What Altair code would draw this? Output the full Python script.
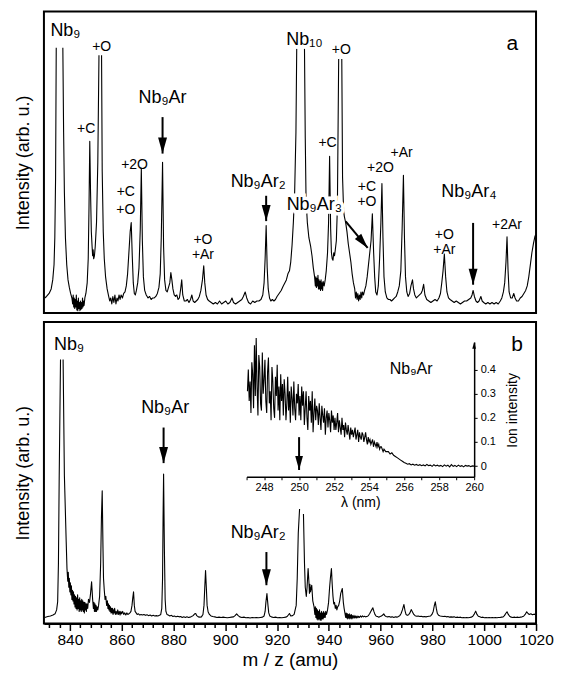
import altair as alt
import pandas as pd

FONT = "Liberation Sans"

# ---------------- panel a: (m/z, intensity in % of panel height); None = clipped peak top
SPEC_A = [
    (830.3, 5), (831.0, 5.5), (832.0, 6.5), (832.8, 8), (833.4, 11), (833.9, 16), (834.2, 25), (834.5, 45), (834.75, 88), None,
    (837.3, 88), (837.6, 60), (837.9, 40), (838.3, 25), (838.8, 16), (839.3, 11), (839.8, 8.5), (840.3, 6.5), (840.8, 5), (841.1, 3),
    (841.3, 6), (841.5, 2), (841.7, 5), (841.9, 1.5), (842.1, 4.5), (842.3, 2), (842.5, 6), (842.7, 1), (842.9, 4), (843.1, 0.8),
    (843.3, 5), (843.5, 1.5), (843.7, 3.5), (843.9, 0.8), (844.1, 4), (844.3, 1.2), (844.5, 3.5), (844.7, 1.5), (844.9, 5), (845.1, 2),
    (845.3, 4), (845.5, 2.5), (845.8, 5), (846.2, 6.5), (846.7, 10), (847.1, 18), (847.4, 35), (847.7, 57), (848.0, 40), (848.3, 27),
    (848.6, 22), (848.8, 19), (849.0, 21), (849.2, 18), (849.5, 19), (849.8, 22), (850.3, 30), (850.8, 50), (851.25, 85.5), None,
    (852.25, 85.5), (852.5, 47), (852.9, 27), (853.3, 18), (853.8, 12), (854.4, 8), (855.0, 5.5), (855.4, 4), (855.8, 5), (856.2, 3),
    (856.6, 5.5), (857.0, 3.5), (857.4, 6), (857.8, 3), (858.2, 5), (858.6, 4), (859.0, 6), (859.4, 4.5), (859.8, 6), (860.3, 5),
    (860.8, 6.5), (861.3, 7), (861.8, 9), (862.3, 13), (862.8, 20), (863.3, 27), (863.7, 30), (864.1, 19), (864.5, 10), (864.9, 6.5),
    (865.3, 6), (865.7, 7.5), (866.2, 10), (866.7, 15), (867.2, 28), (867.6, 48), (868.0, 24), (868.4, 12), (868.9, 7.5), (869.5, 6),
    (870.2, 5), (870.8, 5.5), (871.4, 4.5), (872.0, 5), (872.6, 5), (873.2, 5.5), (873.8, 6.5), (874.4, 8.5), (874.9, 13), (875.3, 25),
    (875.8, 50), (876.2, 22), (876.6, 11), (877.1, 7.5), (877.6, 7), (878.1, 8.5), (878.6, 10), (879.0, 13.4), (879.4, 11), (879.8, 8),
    (880.3, 6), (880.8, 5.5), (881.3, 6), (881.8, 4.5), (882.3, 5), (882.8, 8), (883.2, 11), (883.6, 6), (884.2, 4), (884.8, 4),
    (885.4, 4.5), (886.0, 3.5), (886.6, 4.5), (887.1, 6), (887.6, 4), (888.2, 3.5), (888.8, 4), (889.4, 4.5), (890.0, 5.5), (890.6, 7.5),
    (891.2, 11), (891.7, 15.7), (892.1, 10), (892.6, 6), (893.2, 4.5), (893.8, 4), (894.6, 3.5), (895.4, 3), (896.2, 3.5), (897.0, 3),
    (897.8, 4), (898.6, 3), (899.4, 3.5), (900.2, 4), (901.0, 3), (901.8, 3.5), (902.6, 5), (903.2, 3.5), (904.0, 3), (904.8, 3.5),
    (905.6, 4), (906.4, 4.5), (907.0, 5.5), (907.7, 7), (908.3, 5), (909.0, 3.5), (909.8, 3), (910.6, 4), (911.4, 3.5), (912.2, 4),
    (913.0, 4), (913.8, 4.5), (914.5, 6), (915.0, 10), (915.4, 18), (915.8, 29), (916.2, 15), (916.6, 8), (917.1, 5), (917.6, 4),
    (918.2, 4.5), (918.8, 4), (919.4, 4.5), (920.0, 5.5), (920.8, 6.5), (921.6, 7.5), (922.4, 9), (923.0, 10), (923.6, 11), (924.2, 13),
    (924.8, 14), (925.3, 17), (925.8, 22.5), (926.3, 30), (926.8, 40), (927.3, 60), (927.6, 87.7), None,
    (930.6, 87.7), (930.9, 58), (931.2, 38), (931.7, 30), (932.3, 25), (933.0, 22), (933.5, 19), (934.0, 15), (934.5, 12), (934.8, 9),
    (935.0, 12), (935.2, 8.5), (935.4, 11.5), (935.6, 9), (935.8, 12.5), (936.0, 8), (936.2, 11), (936.4, 8), (936.6, 10.5), (936.8, 7.5),
    (937.0, 11), (937.2, 8), (937.4, 10), (937.6, 7.5), (937.8, 10.5), (938.2, 9), (938.6, 11), (939.0, 14), (939.5, 20), (939.9, 30),
    (940.3, 52), (940.7, 28), (941.0, 20), (941.3, 18), (941.6, 17.5), (941.9, 20), (942.2, 19), (942.5, 21), (942.9, 24), (943.3, 35),
    (943.8, 84.3), None,
    (945.0, 84.3), (945.3, 45), (945.7, 34), (946.0, 32), (946.5, 30), (947.0, 27), (947.5, 23), (948.0, 20), (948.5, 17), (949.0, 13),
    (949.5, 10), (950.0, 8), (950.3, 5), (950.6, 7), (950.9, 4.5), (951.2, 6.5), (951.5, 4), (951.8, 6), (952.1, 4.5), (952.4, 7),
    (952.7, 5), (953.0, 7), (953.4, 6), (953.8, 7.5), (954.3, 9), (954.8, 12), (955.3, 16), (955.8, 20), (956.3, 24), (956.8, 32.9),
    (957.3, 20), (957.7, 12), (958.1, 7), (958.6, 6), (959.1, 9), (959.6, 18), (960.1, 30), (960.5, 43), (960.9, 25), (961.3, 12),
    (961.8, 7), (962.4, 5), (963.0, 4.5), (963.6, 4.5), (964.2, 4), (964.8, 4.5), (965.4, 5), (966.0, 5.5), (966.6, 7), (967.2, 9),
    (967.8, 14), (968.3, 28), (968.8, 45.7), (969.2, 25), (969.6, 12), (970.1, 7), (970.6, 5.5), (971.2, 6.5), (971.7, 9), (972.3, 11),
    (972.7, 8), (973.2, 6), (973.8, 5), (974.4, 5.5), (975.0, 6), (975.6, 6.5), (976.1, 7.5), (976.6, 9.5), (977.1, 6), (977.8, 4.5),
    (978.6, 4), (979.4, 3.5), (980.2, 4), (981.0, 4.5), (981.8, 4), (982.5, 5), (983.1, 6.5), (983.6, 10), (984.1, 14), (984.6, 19.6),
    (985.1, 12), (985.6, 7), (986.2, 5), (986.8, 4.5), (987.6, 4), (988.4, 3.5), (989.2, 4), (990.0, 3.5), (990.8, 3), (991.6, 3.5),
    (992.4, 4), (993.2, 4), (994.0, 4.5), (994.8, 5), (995.3, 6), (995.7, 7.5), (996.2, 5.5), (996.8, 4), (997.4, 3.5), (998.0, 4),
    (998.7, 5.5), (999.2, 4), (999.8, 3.5), (1000.6, 3), (1001.4, 3.5), (1002.2, 3), (1003.0, 3.5), (1003.8, 3), (1004.6, 3.5), (1005.4, 3),
    (1006.2, 4), (1006.8, 5), (1007.4, 7), (1007.9, 10), (1008.4, 17), (1008.8, 25.3), (1009.2, 14), (1009.6, 7), (1010.2, 5), (1010.8, 5),
    (1011.4, 6.5), (1011.9, 5), (1012.5, 4), (1013.2, 4), (1013.9, 5), (1014.6, 5.5), (1015.3, 6.5), (1016.0, 7.5), (1016.6, 9), (1017.2, 12),
    (1017.8, 16), (1018.4, 20), (1019.0, 23), (1019.6, 25.5), (1020.0, 26),
]

# ---------------- panel b
SPEC_B = [
    (830.3, 2), (831.5, 2.3), (832.5, 2.5), (833.5, 2.8), (834.3, 3.2), (834.9, 4.5), (835.3, 7.2), (835.6, 20), (835.9, 49), (836.4, 87.6), None,
    (837.4, 87.6), (837.9, 49), (838.6, 27), (838.9, 18.2),
    (839.2, 14), (839.4, 17), (839.6, 12), (839.8, 15), (840.0, 10.5), (840.2, 13.5), (840.4, 9.5), (840.6, 12.5), (840.8, 8), (841.0, 11),
    (841.2, 7.5), (841.4, 10.5), (841.6, 6.5), (841.8, 9.5), (842.0, 5.5), (842.2, 9), (842.4, 5), (842.6, 8.5), (842.8, 4.5), (843.0, 9.5),
    (843.2, 5), (843.4, 8), (843.6, 4), (843.8, 8.5), (844.0, 4.5), (844.2, 7.5), (844.4, 4), (844.6, 8), (844.8, 4.5), (845.0, 7.5),
    (845.2, 4), (845.4, 7), (845.6, 3.5), (845.8, 7), (846.0, 4.5), (846.2, 6.5), (846.4, 4), (846.6, 6.5), (846.9, 5), (847.2, 8),
    (847.6, 7), (848.0, 10), (848.4, 13.8), (848.8, 8), (849.1, 5), (849.3, 7), (849.5, 4), (849.7, 6.5), (849.9, 4), (850.1, 6),
    (850.3, 4), (850.5, 5.5), (850.8, 4.5), (851.1, 6), (851.5, 9), (851.9, 20), (852.2, 35), (852.5, 44), (852.8, 25), (853.0, 15),
    (853.3, 11), (853.6, 8), (853.9, 9), (854.2, 6), (854.5, 7.5), (854.7, 5), (854.9, 6.5), (855.1, 4.5), (855.3, 6), (855.5, 4),
    (855.7, 5.5), (855.9, 3.5), (856.1, 5), (856.3, 3.5), (856.5, 5), (856.7, 3), (856.9, 4.5), (857.1, 3.5), (857.3, 5), (857.6, 3),
    (857.9, 4), (858.2, 3), (858.5, 4.5), (858.8, 3), (859.1, 4), (859.4, 2.8), (859.7, 4), (860.0, 3.2), (860.4, 4), (860.8, 3),
    (861.2, 3.5), (861.6, 2.8), (862.0, 3.5), (862.4, 3), (862.8, 3.2), (863.2, 3.5), (863.6, 4), (864.0, 6), (864.3, 8.5), (864.6, 10.5),
    (864.9, 6), (865.2, 4), (865.6, 3.5), (866.0, 3), (866.5, 3.2), (867.0, 2.8), (867.5, 3), (868.0, 2.8), (868.6, 3), (869.2, 2.7),
    (869.8, 2.9), (870.4, 2.6), (871.0, 2.8), (871.6, 2.5), (872.2, 2.7), (872.8, 2.5), (873.4, 2.6), (874.0, 2.5), (874.6, 2.7), (875.1, 3),
    (875.5, 5), (875.8, 15), (876.0, 35), (876.2, 49.6), (876.5, 25), (876.8, 8), (877.1, 4), (877.5, 3), (878.0, 2.8), (878.6, 2.5),
    (879.2, 2.7), (879.8, 2.3), (880.4, 2.5), (881.0, 2.2), (881.6, 2.4), (882.2, 2.2), (882.8, 2.3), (883.4, 2), (884.0, 2.2), (884.6, 2),
    (885.2, 2.2), (885.8, 2), (886.4, 2.1), (887.0, 2.3), (887.6, 2.6), (888.2, 3.2), (888.6, 3.3), (889.0, 2.6), (889.6, 2.2), (890.2, 2.1),
    (890.8, 2.2), (891.4, 3), (891.8, 6), (892.1, 12), (892.4, 17.6), (892.7, 12), (893.0, 6), (893.4, 3.8), (893.9, 3), (894.5, 2.5),
    (895.2, 2.3), (896.0, 2.2), (896.8, 2), (897.6, 2.1), (898.4, 2), (899.2, 2.1), (900.0, 2), (900.8, 1.9), (901.6, 2), (902.4, 2.1),
    (903.2, 2.2), (903.8, 2.6), (904.4, 3.2), (905.0, 2.6), (905.6, 2.2), (906.4, 2), (907.2, 2.1), (908.0, 1.9), (908.8, 2), (909.6, 1.8),
    (910.4, 2), (911.2, 1.9), (912.0, 2), (912.8, 1.9), (913.6, 2), (914.4, 2.1), (915.0, 2.5), (915.4, 4), (915.7, 7), (916.1, 9.9),
    (916.5, 6), (916.8, 3.5), (917.2, 2.5), (917.8, 2.2), (918.6, 2), (919.4, 2.1), (920.2, 1.9), (921.0, 2), (921.8, 1.9), (922.6, 2),
    (923.4, 2.1), (924.0, 2.4), (924.8, 3.3), (925.3, 2.5), (926.0, 2.6), (926.6, 3), (927.0, 4.5), (927.4, 6), (927.8, 15), (928.2, 30),
    (928.7, 38), None,
    (930.2, 36.3), (930.6, 20), (930.9, 12), (931.3, 9), (931.6, 12), (932.0, 18.2), (932.3, 14), (932.5, 10), (932.7, 13), (932.9, 10.5),
    (933.4, 12.7), (933.8, 7.5), (934.3, 5.5), (934.6, 3), (934.8, 5.5), (935.0, 2), (935.2, 5), (935.4, 1.5), (935.6, 4.5), (935.8, 1.2),
    (936.0, 4), (936.2, 1.5), (936.4, 4.5), (936.6, 1.2), (936.8, 3.5), (937.0, 1), (937.2, 4), (937.4, 1.5), (937.6, 3.5), (937.8, 1.5),
    (938.0, 4), (938.2, 2), (938.4, 3.5), (938.6, 2), (938.8, 4), (939.1, 3), (939.5, 4.5), (939.9, 7), (940.3, 12), (940.6, 15),
    (941.0, 18.2), (941.3, 13), (941.6, 9), (941.9, 6.5), (942.2, 7), (942.5, 5), (942.8, 6), (943.1, 4.5), (943.4, 5.5), (943.8, 6),
    (944.2, 7.5), (944.6, 10), (945.2, 11.6), (945.6, 7), (945.9, 5), (946.2, 3.5), (946.5, 2), (946.7, 3.5), (946.9, 1.8), (947.1, 3.3),
    (947.3, 1.5), (947.5, 3), (947.7, 1.8), (947.9, 3.2), (948.1, 1.5), (948.3, 2.8), (948.5, 1.8), (948.7, 3), (948.9, 1.5), (949.1, 2.6),
    (949.4, 1.8), (949.7, 2.7), (950.0, 1.8), (950.3, 2.5), (950.6, 1.8), (950.9, 2.5), (951.2, 1.9), (951.5, 2.4), (951.8, 2), (952.2, 2.5),
    (952.6, 2.1), (953.0, 2.5), (953.4, 2.2), (953.8, 2.4), (954.2, 2.2), (954.6, 2.3), (955.0, 2.4), (955.4, 2.8), (955.8, 3.3), (956.2, 4),
    (956.6, 4.6), (957.0, 5.2), (957.4, 4), (957.8, 3), (958.3, 2.4), (958.8, 2.3), (959.3, 2.1), (959.8, 2.3), (960.3, 2.5), (960.8, 2.8),
    (961.2, 3.2), (961.6, 2.6), (962.1, 2.3), (962.7, 2.2), (963.3, 2.3), (963.9, 2.1), (964.5, 2.2), (965.1, 2), (965.7, 2.2), (966.3, 2.1),
    (966.9, 2.3), (967.4, 2.6), (967.9, 3.3), (968.4, 4.5), (969.0, 6.3), (969.4, 4.3), (969.8, 3), (970.3, 2.7), (970.8, 2.9), (971.3, 3.5),
    (971.8, 4.6), (972.3, 3.8), (972.8, 3), (973.3, 2.6), (973.9, 2.4), (974.5, 2.5), (975.1, 2.3), (975.7, 2.4), (976.3, 2.2), (976.9, 2.3),
    (977.5, 2.2), (978.1, 2.3), (978.7, 2.4), (979.3, 2.5), (979.8, 3), (980.3, 4), (980.7, 5.8), (981.1, 7.2), (981.5, 5), (981.9, 3.3),
    (982.4, 2.7), (983.0, 2.5), (983.6, 2.4), (984.2, 2.3), (984.8, 2.4), (985.4, 2.2), (986.0, 2.3), (986.6, 2.1), (987.2, 2.2), (987.8, 2.1),
    (988.4, 2.2), (989.0, 2), (989.6, 2.1), (990.2, 2), (990.8, 2.1), (991.4, 1.9), (992.0, 2), (992.6, 1.9), (993.2, 2), (993.8, 1.9),
    (994.4, 2), (995.0, 2.1), (995.6, 2.4), (996.2, 3.2), (996.7, 4.1), (997.2, 3), (997.7, 2.4), (998.3, 2.2), (998.9, 2), (999.5, 2.1),
    (1000.1, 1.9), (1000.7, 2), (1001.3, 1.9), (1001.9, 2), (1002.5, 1.9), (1003.1, 2), (1003.7, 1.9), (1004.3, 2), (1004.9, 1.9), (1005.5, 2),
    (1006.1, 2), (1006.7, 2.1), (1007.3, 2.2), (1007.8, 2.6), (1008.3, 3.3), (1008.8, 3.9), (1009.3, 3), (1009.8, 2.4), (1010.4, 2.1), (1011.0, 2),
    (1011.6, 2.1), (1012.2, 2), (1012.8, 2.1), (1013.4, 2), (1014.0, 2.1), (1014.6, 2.2), (1015.2, 2.4), (1015.8, 3), (1016.4, 3.9), (1016.9, 3.3),
    (1017.4, 3), (1018.0, 3.2), (1018.6, 2.9), (1019.2, 3.1), (1019.8, 3),
]

# ---------------- inset: Nb9Ar photodissociation spectrum
INSET_WL = [
    247.05, 247.1, 247.15, 247.2, 247.25, 247.3, 247.35, 247.4, 247.45, 247.5, 247.55, 247.6, 247.65, 247.7, 247.75, 247.8, 247.85, 247.9, 247.95, 248.0,
    248.05, 248.1, 248.15, 248.2, 248.25, 248.3, 248.35, 248.4, 248.45, 248.5, 248.55, 248.6, 248.65, 248.7, 248.75, 248.8, 248.85, 248.9, 248.95, 249.0,
    249.05, 249.1, 249.15, 249.2, 249.25, 249.3, 249.35, 249.4, 249.45, 249.5, 249.55, 249.6, 249.65, 249.7, 249.75, 249.8, 249.85, 249.9, 249.95, 250.0,
    250.05, 250.1, 250.15, 250.2, 250.25, 250.3, 250.35, 250.4, 250.45, 250.5, 250.55, 250.6, 250.65, 250.7, 250.75, 250.8, 250.85, 250.9, 250.95, 251.0,
    251.05, 251.1, 251.15, 251.2, 251.25, 251.3, 251.35, 251.4, 251.45, 251.5, 251.55, 251.6, 251.65, 251.7, 251.75, 251.8, 251.85, 251.9, 251.95, 252.0,
    252.05, 252.1, 252.15, 252.2, 252.25, 252.3, 252.35, 252.4, 252.45, 252.5, 252.55, 252.6, 252.65, 252.7, 252.75, 252.8, 252.85, 252.9, 252.95, 253.0,
    253.05, 253.1, 253.15, 253.2, 253.25, 253.3, 253.35, 253.4, 253.45, 253.5, 253.55, 253.6, 253.65, 253.7, 253.75, 253.8, 253.85, 253.9, 253.95, 254.0,
    254.05, 254.1, 254.15, 254.2, 254.25, 254.3, 254.35, 254.4, 254.45, 254.5, 254.55, 254.6, 254.65, 254.7, 254.75, 254.8, 254.85, 254.9, 254.95, 255.0,
    255.1, 255.2, 255.3, 255.4, 255.5, 255.6, 255.7, 255.8, 255.9, 256.0,
    256.1, 256.2, 256.3, 256.4, 256.5, 256.6, 256.7, 256.8, 256.9, 257.0,
    257.1, 257.2, 257.3, 257.4, 257.5, 257.6, 257.7, 257.8, 257.9, 258.0,
    258.1, 258.2, 258.3, 258.4, 258.5, 258.6, 258.7, 258.8, 258.9, 259.0,
    259.1, 259.2, 259.3, 259.4, 259.5, 259.6, 259.7, 259.8, 259.9, 260.0,
]
INSET_VAL = [
    0.31, 0.40, 0.27, 0.35, 0.22, 0.43, 0.38, 0.24, 0.50, 0.29, 0.53, 0.33, 0.21, 0.46, 0.41, 0.26, 0.23, 0.47, 0.30, 0.36,
    0.44, 0.27, 0.22, 0.39, 0.45, 0.26, 0.31, 0.19, 0.41, 0.35, 0.24, 0.20, 0.37, 0.29, 0.42, 0.23, 0.33, 0.19, 0.38, 0.27,
    0.34, 0.21, 0.36, 0.30, 0.19, 0.26, 0.37, 0.23, 0.31, 0.18, 0.33, 0.28, 0.21, 0.35, 0.24, 0.19, 0.30, 0.26, 0.34, 0.21,
    0.29, 0.19, 0.33, 0.25, 0.31, 0.17, 0.24, 0.31, 0.20, 0.15, 0.29, 0.23, 0.27, 0.18, 0.31, 0.14, 0.22, 0.28, 0.19, 0.25,
    0.23, 0.17, 0.26, 0.20, 0.15, 0.25, 0.21, 0.18, 0.24, 0.13, 0.20, 0.23, 0.16, 0.22, 0.19, 0.14, 0.23, 0.18, 0.21, 0.15,
    0.20, 0.15, 0.18, 0.22, 0.14, 0.19, 0.16, 0.13, 0.20, 0.15, 0.17, 0.12, 0.18, 0.15, 0.13, 0.17, 0.14, 0.11, 0.16, 0.13,
    0.15, 0.12, 0.14, 0.16, 0.11, 0.13, 0.15, 0.10, 0.14, 0.12, 0.11, 0.14, 0.13, 0.10, 0.12, 0.14, 0.11, 0.09, 0.12, 0.10,
    0.11, 0.09, 0.10, 0.11, 0.08, 0.10, 0.09, 0.08, 0.10, 0.08, 0.09, 0.07, 0.08, 0.08, 0.07, 0.06, 0.07, 0.065, 0.06, 0.06,
    0.06, 0.05, 0.055, 0.045, 0.04, 0.035, 0.03, 0.025, 0.02, 0.015,
    0.012, 0.008, 0.01, 0.005, 0.008, 0.004, 0.007, 0.003, 0.006, 0.002,
    0.005, 0.001, 0.007, 0.002, 0.004, -0.001, 0.006, 0.001, 0.004, 0.0,
    0.003, -0.002, 0.005, 0.0, 0.004, -0.003, 0.006, -0.001, 0.003, -0.002,
    0.004, -0.001, 0.002, -0.003, 0.003, 0.0, 0.002, -0.002, 0.001, 0.0,
]
INSET_X_TICKS = [247, 248, 249, 250, 251, 252, 253, 254, 255, 256, 257, 258, 259, 260]
INSET_Y_TICKS = [0, 0.1, 0.2, 0.3, 0.4]

# ---------------- annotations (anchor in data units)
SPECIES_A_MZ = [838.3, 875.8, 912.7, 930.6, 934.4, 994.1]
SPECIES_A_Y = [93.4, 71.3, 43.5, 90.6, 36.0, 40.0]
SPECIES_A_TXT = ["Nb₉", "Nb₉Ar", "Nb₉Ar₂", "Nb₁₀", "Nb₉Ar₃", "Nb₉Ar₄"]

ADDUCT_A_MZ = [852.3, 846.3, 865.0, 861.6, 861.6, 891.4, 891.4, 944.8, 939.5, 968.1, 959.9, 954.7, 954.7, 984.6, 984.6, 1008.8]
ADDUCT_A_Y = [88.3, 61.0, 49.0, 40.2, 34.3, 24.2, 19.1, 87.4, 56.5, 53.1, 48.0, 41.8, 36.7, 25.9, 20.9, 29.3]
ADDUCT_A_TXT = ["+O", "+C", "+2O", "+C", "+O", "+O", "+Ar", "+O", "+C", "+Ar", "+2O", "+C", "+O", "+O", "+Ar", "+2Ar"]

SPECIES_B_MZ = [839.7, 876.8, 912.7]
SPECIES_B_Y = [92.5, 71.6, 30.0]
SPECIES_B_TXT = ["Nb₉", "Nb₉Ar", "Nb₉Ar₂"]

ARROW_A_MZ = [875.8, 915.8, 995.7]
ARROW_A_FROM = [65.0, 38.9, 29.9]
ARROW_A_TO = [52.9, 30.5, 9.4]
DIAG_A_FROM = (946.5, 30.4)
DIAG_A_TO = (955.0, 21.6)

ARROW_B_MZ = [876.2, 915.9]
ARROW_B_FROM = [65.0, 23.7]
ARROW_B_TO = [53.2, 12.7]

INSET_ARROW = (250.0, 0.12, -0.016)
INSET_LABEL = (256.4, 0.404, "Nb₉Ar")
PANEL_LETTERS = [("a", 1010.8, 89.4), ("b", 1012.7, 92.5)]

# ---------------- build
W, H = 493, 302
HEAD_DOWN = "M-1,-3.6L1,-3.6L0,0Z"
HEAD_UP = "M-1,3.6L1,3.6L0,0Z"


def spectrum_df(points):
    rows, seg = [], 0
    for p in points:
        if p is None:
            seg += 1
            continue
        rows.append({"mz": p[0], "h": p[1], "seg": seg})
    return pd.DataFrame(rows)


XS = alt.Scale(domain=[830, 1020], nice=False, zero=False)
YS = alt.Scale(domain=[0, 100], nice=False, zero=False)
Y_AXIS = alt.Axis(title="Intensity (arb. u.)", labels=False, ticks=False, domain=False,
                  grid=False, titleFontSize=18, titlePadding=11)
X_AXIS_B = alt.Axis(
    title="m / z (amu)", values=list(range(832, 1021, 4)), format="d",
    labelExpr="datum.value % 20 == 0 ? datum.label : ''",
    tickSize={"condition": {"test": "datum.value % 20 == 0", "value": 7}, "value": 4},
    tickWidth=1.5, domainWidth=2, labelFontSize=15.5, titleFontSize=19,
    labelPadding=2, titlePadding=3, grid=False, labelOverlap=False, labelFlush=False,
)


def panel(points, species, adducts, arrows, diag, letter, x_axis):
    xe = alt.X("mz:Q", scale=XS, axis=x_axis)
    ye = alt.Y("h:Q", scale=YS, axis=Y_AXIS)
    layers = [
        alt.Chart(spectrum_df(points)).mark_line(color="black", strokeWidth=1.1, strokeJoin="round")
        .encode(x=xe, y=ye, detail="seg:N")
    ]
    sp = pd.DataFrame({"mz": species[0], "h": species[1], "t": species[2]})
    # white halo masks the spectrum behind the species labels, as in the original figure
    layers.append(alt.Chart(sp).mark_text(font=FONT, fontSize=18, color="white", stroke="white", strokeWidth=7,
                                          align="center", baseline="middle")
                  .encode(x=xe, y=ye, text="t:N"))
    layers.append(alt.Chart(sp).mark_text(font=FONT, fontSize=18, color="black", align="center", baseline="middle")
                  .encode(x=xe, y=ye, text="t:N"))
    if adducts is not None:
        ad = pd.DataFrame({"mz": adducts[0], "h": adducts[1], "t": adducts[2]})
        layers.append(alt.Chart(ad).mark_text(font=FONT, fontSize=14, color="black", align="center", baseline="middle")
                      .encode(x=xe, y=ye, text="t:N"))
    lt = pd.DataFrame({"mz": [letter[1]], "h": [letter[2]], "t": [letter[0]]})
    layers.append(alt.Chart(lt).mark_text(font=FONT, fontSize=21, color="black", align="center", baseline="middle")
                  .encode(x=xe, y=ye, text="t:N"))
    ar = pd.DataFrame({"mz": arrows[0], "h": arrows[1], "h2": arrows[2]})
    layers.append(alt.Chart(ar).mark_rule(color="black", strokeWidth=2)
                  .encode(x=xe, y=ye, y2="h2:Q"))
    hd = pd.DataFrame({"mz": arrows[0], "h": arrows[2]})
    layers.append(alt.Chart(hd).mark_point(shape=HEAD_DOWN, filled=True, size=80, color="black", opacity=1)
                  .encode(x=xe, y=ye))
    if diag is not None:
        dg = pd.DataFrame({"mz": [diag[0][0]], "h": [diag[0][1]], "mz2": [diag[1][0]], "h2": [diag[1][1]]})
        layers.append(alt.Chart(dg).mark_rule(color="black", strokeWidth=2)
                      .encode(x=xe, y=ye, x2="mz2:Q", y2="h2:Q"))
        dh = pd.DataFrame({"mz": [diag[1][0]], "h": [diag[1][1]]})
        layers.append(alt.Chart(dh).mark_point(shape=HEAD_DOWN, filled=True, size=70, color="black",
                                               opacity=1, angle=320)
                      .encode(x=xe, y=ye))
    return alt.layer(*layers)


panel_a = panel(SPEC_A, (SPECIES_A_MZ, SPECIES_A_Y, SPECIES_A_TXT),
                (ADDUCT_A_MZ, ADDUCT_A_Y, ADDUCT_A_TXT),
                (ARROW_A_MZ, ARROW_A_FROM, ARROW_A_TO), (DIAG_A_FROM, DIAG_A_TO),
                PANEL_LETTERS[0], None).properties(width=W, height=H)

main_b = panel(SPEC_B, (SPECIES_B_MZ, SPECIES_B_Y, SPECIES_B_TXT), None,
               (ARROW_B_MZ, ARROW_B_FROM, ARROW_B_TO), None, PANEL_LETTERS[1], X_AXIS_B)

# inset layers (pixel range inside panel b)
XI = alt.X("wl:Q", scale=alt.Scale(domain=[247, 260], range=[203, 431], nice=False, zero=False),
           axis=alt.Axis(orient="bottom", offset=-147, values=INSET_X_TICKS,
                         labelExpr="datum.value % 2 == 0 ? datum.label : ''",
                         title="λ (nm)", tickSize=3, labelFontSize=11, titleFontSize=14,
                         labelPadding=2, titlePadding=3, domainWidth=1.5, tickWidth=1,
                         grid=False, labelOverlap=False, labelFlush=False))
YI = alt.Y("val:Q", scale=alt.Scale(domain=[-0.044, 0.514], range=[155, 20], nice=False, zero=False),
           axis=alt.Axis(orient="right", offset=-62, values=INSET_Y_TICKS,
                         labelExpr="datum.value == 0 ? '0' : format(datum.value, '.1f')",
                         title="Ion intensity", titleAngle=270, titleBaseline="middle",
                         titleX=38, titleY=88, tickSize=3, labelFontSize=11,
                         titleFontSize=14, labelPadding=3, domainWidth=1.5,
                         grid=False, labelOverlap=False, labelFlush=False))

inset_df = pd.DataFrame({"wl": INSET_WL, "val": INSET_VAL})
inset_line = alt.Chart(inset_df).mark_line(color="black", strokeWidth=1.1).encode(x=XI, y=YI)
ia = pd.DataFrame({"wl": [INSET_ARROW[0]], "val": [INSET_ARROW[1]], "val2": [INSET_ARROW[2]]})
inset_rule = alt.Chart(ia).mark_rule(color="black", strokeWidth=2).encode(x=XI, y=YI, y2="val2:Q")
ih = pd.DataFrame({"wl": [INSET_ARROW[0]], "val": [INSET_ARROW[2]]})
inset_head = alt.Chart(ih).mark_point(shape=HEAD_DOWN, filled=True, size=60, color="black", opacity=1).encode(x=XI, y=YI)
axh = pd.DataFrame({"wl": [260], "val": [0.514]})
inset_axis_head = alt.Chart(axh).mark_point(shape=HEAD_UP, filled=True, size=14, color="black", opacity=1).encode(x=XI, y=YI)
il = pd.DataFrame({"wl": [INSET_LABEL[0]], "val": [INSET_LABEL[1]], "t": [INSET_LABEL[2]]})
inset_text = alt.Chart(il).mark_text(font=FONT, fontSize=16, color="black", align="center", baseline="middle").encode(
    x=XI, y=YI, text="t:N")
inset = alt.layer(inset_line, inset_rule, inset_head, inset_axis_head, inset_text)

panel_b = alt.layer(main_b, inset).resolve_scale(x="independent", y="independent").properties(width=W, height=H)

chart = (
    alt.vconcat(panel_a, panel_b, spacing=7)
    .resolve_scale(x="independent", y="independent")
    .properties(padding={"left": 6, "top": 2, "right": 0, "bottom": 0}, background="white")
    .configure_view(stroke="black", strokeWidth=2)
    .configure_axis(labelFont=FONT, titleFont=FONT, labelColor="black", titleColor="black",
                    domainColor="black", tickColor="black", titleFontWeight="normal")
)

chart.save("out.html", embed_options={"renderer": "svg", "actions": False})
